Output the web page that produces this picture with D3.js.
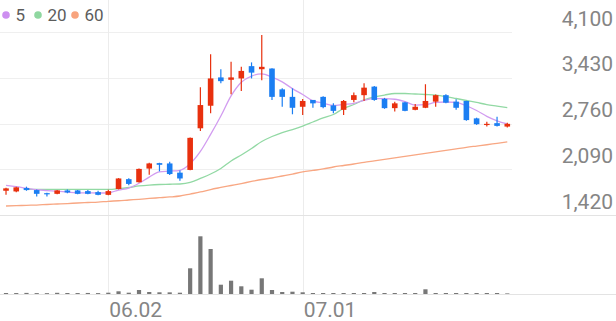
<!DOCTYPE html>
<html>
<head>
<meta charset="utf-8">
<script src="https://cdn.jsdelivr.net/npm/d3@7"></script>
<style>
  body { margin: 0; background: #fff; }
  svg { display: block; font-family: Roboto, "Noto Sans", sans-serif; }
</style>
</head>
<body>
<svg id="chart" width="616" height="321"></svg>
<script>
const dates = ["05.19","05.20","05.21","05.22","05.23","05.26","05.27","05.28","05.29","05.30",
  "06.02","06.04","06.05","06.09","06.10","06.11","06.12","06.13","06.16","06.17",
  "06.18","06.19","06.20","06.23","06.24","06.25","06.26","06.27","06.30","07.01",
  "07.02","07.03","07.04","07.07","07.08","07.09","07.10","07.11","07.14","07.15",
  "07.16","07.17","07.18","07.21","07.22","07.23","07.24","07.25","07.28","07.29"];

const opens = [1775,1765,1815,1785,1740,1730,1780,1780,1770,1755,1715,1800,1945,1900,2100,2180,2175,2040,2080,2690,
  3020,3435,3400,3420,3600,3555,3565,3260,3150,3005,3105,3150,3025,2960,3105,3175,3300,3120,2985,3070,
  2960,2990,3080,3175,3080,3090,2835,2740,2765,2715];
const highs = [1820,1835,1835,1795,1745,1785,1795,1785,1785,1775,1790,1960,1960,2100,2185,2185,2200,2070,2555,3290,
  3775,3555,3665,3590,3655,4055,3570,3275,3275,3120,3105,3160,3055,3105,3215,3350,3310,3135,3080,3080,
  3045,3335,3185,3190,3115,3095,2845,2785,2860,2770];
const lows = [1715,1755,1775,1690,1690,1725,1740,1725,1725,1710,1710,1795,1855,1895,2010,2060,2005,1920,2075,2650,
  2910,3350,3190,3235,3420,3395,3105,3005,2895,2885,2990,2985,2910,2885,3070,3090,3095,2975,2935,2940,
  2955,2985,3005,3055,2960,2800,2740,2715,2715,2700];
const closes = [1810,1825,1785,1730,1725,1780,1750,1730,1730,1715,1770,1955,1875,2095,2175,2155,2020,1955,2550,3030,
  3420,3380,3435,3530,3505,3590,3150,3150,2990,3090,3055,3000,2945,3090,3175,3285,3105,2985,3055,2945,
  3005,3090,3175,3065,2990,2810,2750,2755,2725,2755];
const volumes = [100000,95000,110000,90000,85000,120000,100000,95000,105000,90000,
  130000,270000,130000,400000,200000,170000,165000,130000,2570000,5770000,
  4500000,930000,1330000,770000,430000,1570000,400000,200000,230000,170000,
  100000,100000,100000,100000,100000,100000,200000,100000,100000,100000,
  100000,470000,100000,100000,100000,100000,100000,100000,100000,60000];

const ma5 = [1855,1835,1812,1790,1778,1770,1756,1745,1744,1742,1745,1785,1815,1885,1975,2052,2062,2075,2171,2350,
  2600,2870,3165,3365,3455,3488,3440,3370,3270,3185,3092,3060,3025,3040,3055,3100,3125,3125,3115,3080,
  3030,3035,3070,3075,3070,3020,2950,2865,2800,2755];
const ma20 = [null,null,1795,1796,1796,1795,1795,1794,1794,1794,1795,1806,1823,1845,1859,1867,1870,1874,1896,1955,
  2020,2101,2211,2299,2394,2496,2570,2628,2672,2723,2782,2841,2892,2980,3038,3105,3148,3177,3199,3199,
  3192,3185,3177,3155,3126,3097,3068,3038,3016,2994];
const ma60 = [1552,1556,1562,1566,1574,1581,1588,1596,1603,1610,1621,1629,1640,1650,1662,1673,1684,1698,1727,1757,
  1793,1823,1852,1881,1911,1940,1962,1991,2020,2050,2072,2094,2123,2145,2167,2192,2214,2236,2258,2280,
  2302,2324,2346,2367,2389,2411,2430,2449,2470,2490];

const priceTicks = [1420, 2090, 2760, 3430, 4100];
const dateTicks = ["06.02", "07.01"];
const legendNames = ["5", "20", "60"];

const upColor = "#e8300e";
const downColor = "#1b7ef2";
const maColors = ["#d29cf0", "#92d9a4", "#f8a783"];
const legendColors = ["#cd8ff0", "#8fd7a0", "#f8a47e"];

const svg = d3.select("#chart");

const x = d3.scaleBand().domain(dates).range([0.9, 512.4]);
const y = d3.scaleLinear().domain([1420, 4100]).range([215, 32]);
const yVol = d3.scaleLinear().domain([0, 6000000]).range([294, 234]);
const cx = d => x(d) + x.bandwidth() / 2;

// grid
svg.selectAll("line.hgrid")
  .data(priceTicks.slice(1))
  .enter().append("line")
  .attr("class", "hgrid")
  .attr("x1", 0).attr("x2", 512)
  .attr("y1", d => Math.round(y(d)) + 0.5)
  .attr("y2", d => Math.round(y(d)) + 0.5)
  .attr("stroke", "#efefef");

svg.selectAll("line.vgrid")
  .data(dateTicks)
  .enter().append("line")
  .attr("class", "vgrid")
  .attr("x1", d => Math.round(cx(d)) + 0.5)
  .attr("x2", d => Math.round(cx(d)) + 0.5)
  .attr("y1", 0).attr("y2", 294)
  .attr("stroke", "#ececec");

// panel separators
[y(1420), yVol(0)].forEach(v => {
  svg.append("line")
    .attr("x1", 0).attr("x2", 616)
    .attr("y1", Math.round(v) + 0.5).attr("y2", Math.round(v) + 0.5)
    .attr("stroke", "#e3e3e3");
});

// y labels
svg.selectAll("text.ylab")
  .data(priceTicks)
  .enter().append("text")
  .attr("class", "ylab")
  .attr("x", 613)
  .attr("y", d => y(d) - 6.5)
  .attr("text-anchor", "end")
  .attr("font-size", 21)
  .attr("fill", "#858585")
  .text(d => d3.format(",")(d));

// x labels
svg.selectAll("text.xlab")
  .data(dateTicks)
  .enter().append("text")
  .attr("class", "xlab")
  .attr("x", d => cx(d) + 1)
  .attr("y", 316.5)
  .attr("font-size", 21)
  .attr("fill", "#858585")
  .text(d => d);

// moving averages
const line = d3.line()
  .defined(d => d[1] != null)
  .x(d => cx(d[0]))
  .y(d => y(d[1]))
  .curve(d3.curveMonotoneX);

[ma60, ma20, ma5].forEach((ma, k) => {
  svg.append("path")
    .datum(dates.map((d, i) => [d, ma[i]]))
    .attr("fill", "none")
    .attr("stroke", maColors[2 - k])
    .attr("stroke-width", 1.3)
    .attr("d", line);
});

// candles
const candles = dates.map((d, i) => ({ d, o: opens[i], h: highs[i], l: lows[i], c: closes[i], v: volumes[i] }));
const bodyW = 5.6;

const g = svg.append("g");
g.selectAll("line.wick")
  .data(candles)
  .enter().append("line")
  .attr("class", "wick")
  .attr("x1", d => cx(d.d)).attr("x2", d => cx(d.d))
  .attr("y1", d => y(d.h)).attr("y2", d => y(d.l))
  .attr("stroke", d => d.c >= d.o ? upColor : downColor)
  .attr("stroke-width", 1.2);

g.selectAll("rect.body")
  .data(candles)
  .enter().append("rect")
  .attr("class", "body")
  .attr("x", d => cx(d.d) - bodyW / 2)
  .attr("width", bodyW)
  .attr("y", d => y(Math.max(d.o, d.c)))
  .attr("height", d => Math.max(1.2, Math.abs(y(d.o) - y(d.c))))
  .attr("fill", d => d.c >= d.o ? upColor : downColor);

// volume
svg.selectAll("rect.vol")
  .data(candles)
  .enter().append("rect")
  .attr("class", "vol")
  .attr("x", d => cx(d.d) - 2.1)
  .attr("width", 4.2)
  .attr("y", d => yVol(d.v))
  .attr("height", d => yVol(0) - yVol(d.v))
  .attr("fill", "#777");

// legend
const legendX = [6, 38, 75];
legendNames.forEach((name, i) => {
  svg.append("circle")
    .attr("cx", legendX[i]).attr("cy", 15)
    .attr("r", 3.8)
    .attr("fill", legendColors[i]);
  svg.append("text")
    .attr("x", legendX[i] + 9.5)
    .attr("y", 20.5)
    .attr("font-size", 17)
    .attr("fill", "#5c5c5c")
    .text(name);
});
</script>
</body>
</html>
